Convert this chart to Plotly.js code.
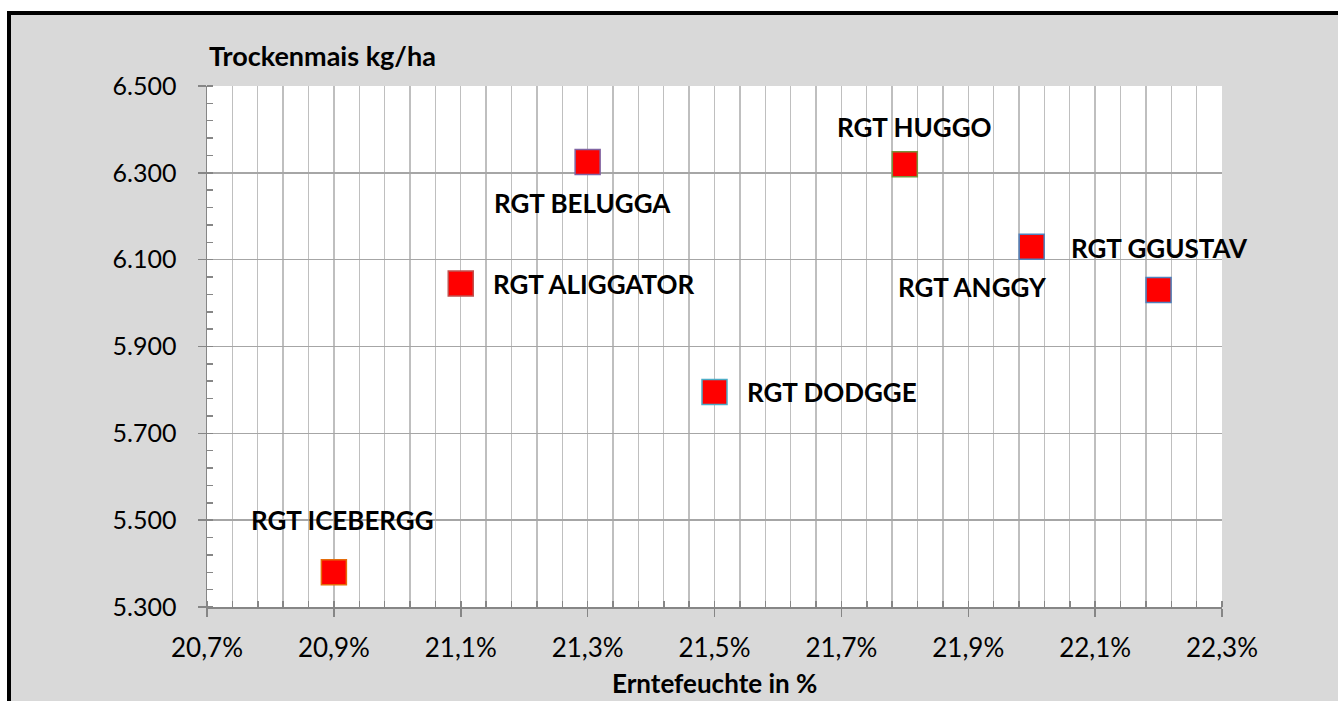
<!DOCTYPE html>
<html>
<head>
<meta charset="utf-8">
<script src="https://cdn.plot.ly/plotly-3.0.1.min.js"></script>
<style>
  html, body { margin:0; padding:0; background:#ffffff; overflow:hidden; }
  #bg { position:absolute; left:7px; top:11px; width:1400px; height:760px;
        background:#d9d9d9; border-left:4px solid #000; border-top:4px solid #000; }
  #chart { position:absolute; left:0; top:0; width:1338px; height:701px; }
</style>
</head>
<body>
<div id="bg"></div>
<div id="chart"></div>
<script>
// Data
const varieties = ["RGT ICEBERGG", "RGT ALIGGATOR", "RGT BELUGGA", "RGT DODGGE", "RGT HUGGO", "RGT ANGGY", "RGT GGUSTAV"];
const moisture  = [0.209, 0.211, 0.213, 0.215, 0.218, 0.220, 0.222];   // Erntefeuchte
const yieldKg   = [5380, 6045, 6325, 5795, 6320, 6130, 6030];           // Trockenmais kg/ha

// Styles (marker borders and label offsets, in pixels)
const borderColors = ["#e46c0a", "#c0504d", "#8064a2", "#4bacc6", "#77933c", "#4f81bd", "#4f81bd"];
const labelStyle = [
  {xanchor:"center", xshift: 9,  yshift: 52},
  {xanchor:"left",   xshift: 30, yshift: 0},
  {xanchor:"center", xshift: -5, yshift: -41},
  {xanchor:"left",   xshift: 30, yshift: 0},
  {xanchor:"center", xshift: 10, yshift: 37},
  {xanchor:"center", xshift: -59, yshift: -40},
  {xanchor:"center", xshift: 1,  yshift: 42}
];

const FONT = "Lato, 'Open Sans', sans-serif";

const trace = {
  type: "scatter",
  mode: "markers",
  x: moisture,
  y: yieldKg,
  text: varieties,
  marker: {symbol: "square", size: 25, color: "#ff0000",
           line: {color: borderColors, width: 1.5}},
  hoverinfo: "text+x+y",
  cliponaxis: false
};

const annotations = varieties.map((v, i) => ({
  x: moisture[i], y: yieldKg[i], xref: "x", yref: "y",
  text: "<b>" + v + "</b>", showarrow: false,
  xanchor: labelStyle[i].xanchor, yanchor: "middle",
  xshift: labelStyle[i].xshift, yshift: labelStyle[i].yshift,
  font: {family: FONT, size: 26, color: "#000"}
}));

annotations.push({
  xref: "paper", yref: "paper", x: 0, y: 1, xanchor: "left", yanchor: "middle",
  yshift: 31, showarrow: false, text: "<b>Trockenmais kg/ha</b>",
  font: {family: FONT, size: 27, color: "#000"}
});
annotations.push({
  xref: "paper", yref: "paper", x: 0.5, y: 0, xanchor: "center", yanchor: "middle",
  yshift: -76, showarrow: false, text: "<b>Erntefeuchte in %</b>",
  font: {family: FONT, size: 26, color: "#000"}
});

const layout = {
  width: 1338, height: 701,
  margin: {l: 207, r: 116, t: 86, b: 94, pad: 0},
  paper_bgcolor: "rgba(0,0,0,0)",
  plot_bgcolor: "#ffffff",
  separators: ",.",
  showlegend: false,
  font: {family: FONT, size: 24, color: "#000"},
  xaxis: {
    range: [0.207, 0.223], tickformat: ".1%", dtick: 0.002, tick0: 0.207,
    showgrid: true, gridcolor: "#bfbfbf", gridwidth: 1.3,
    showline: true, linecolor: "#868686", linewidth: 1.5,
    ticks: "outside", ticklen: 8, tickcolor: "#868686", tickwidth: 1.5,
    ticklabelstandoff: 9,
    zeroline: false, fixedrange: true,
    tickfont: {family: FONT, size: 26, color: "#000"},
    minor: {dtick: 0.0004, tick0: 0.207, showgrid: true, gridcolor: "#bfbfbf", gridwidth: 1.3,
            ticks: "inside", ticklen: 6, tickcolor: "#868686", tickwidth: 1.5}
  },
  yaxis: {
    range: [5300, 6500], tickformat: ",d", dtick: 200, tick0: 5300,
    showgrid: true, gridcolor: "#a6a6a6", gridwidth: 1.5,
    showline: true, linecolor: "#868686", linewidth: 1.5,
    ticks: "outside", ticklen: 8, tickcolor: "#868686", tickwidth: 1.5,
    ticklabelstandoff: 16,
    zeroline: false, fixedrange: true,
    tickfont: {family: FONT, size: 25, color: "#000"},
    minor: {dtick: 40, tick0: 5300, showgrid: false,
            ticks: "inside", ticklen: 6, tickcolor: "#868686", tickwidth: 1.5}
  },
  annotations: annotations
};

Plotly.newPlot("chart", [trace], layout, {displayModeBar: false, staticPlot: true});
</script>
</body>
</html>
